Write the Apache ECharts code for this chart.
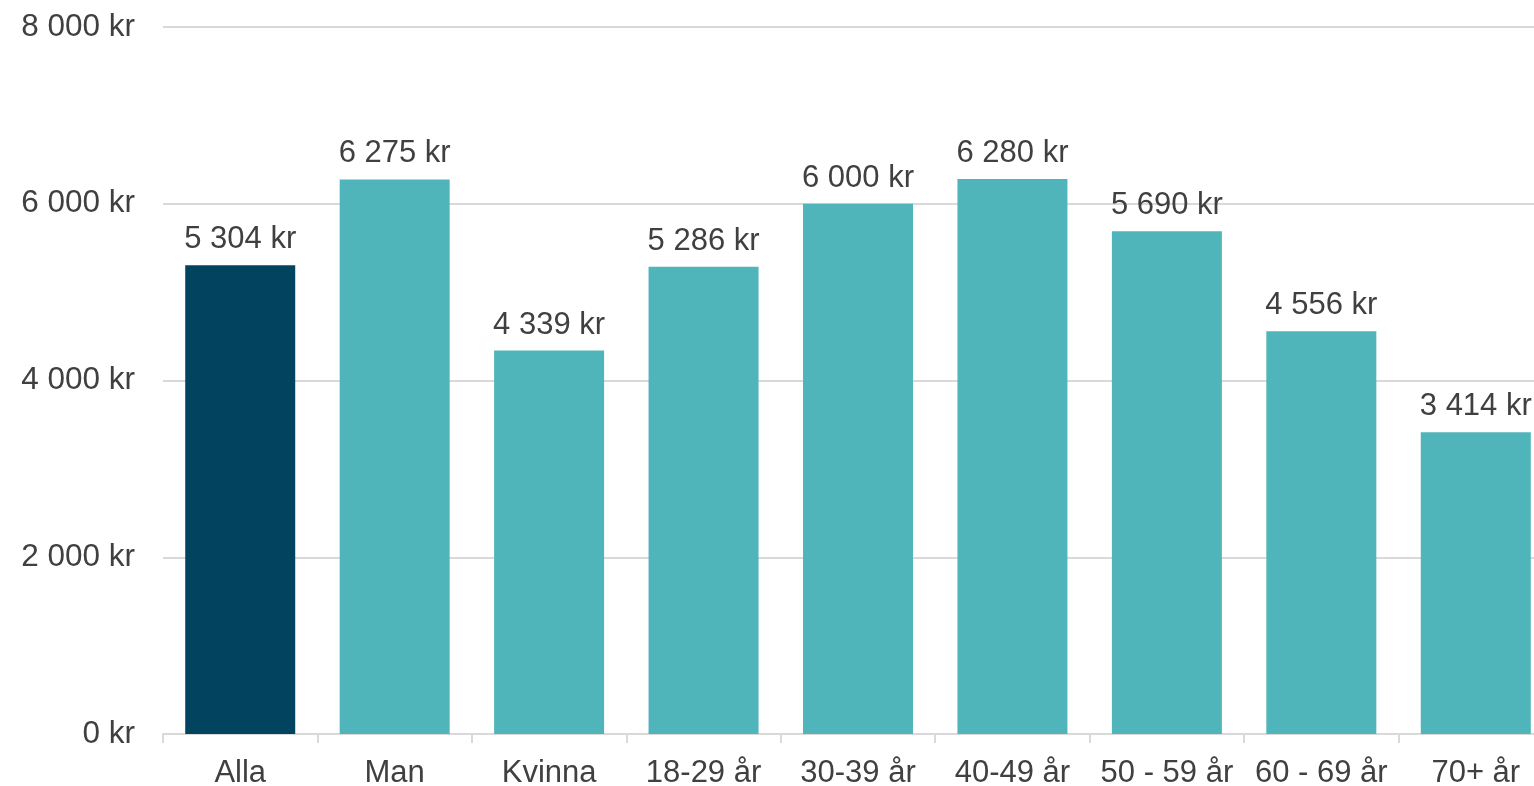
<!DOCTYPE html>
<html>
<head>
<meta charset="utf-8">
<script src="https://cdn.jsdelivr.net/npm/echarts@6/dist/echarts.min.js"></script>
<style>
html,body{margin:0;padding:0;background:#fff;}
#chart{width:1534px;height:786px;}
</style>
</head>
<body>
<div id="chart"></div>
<script>
const categories = ['Alla', 'Man', 'Kvinna', '18-29 år', '30-39 år', '40-49 år', '50 - 59 år', '60 - 69 år', '70+ år'];
const values = [5304, 6275, 4339, 5286, 6000, 6280, 5690, 4556, 3414];
const yTicks = [0, 2000, 4000, 6000, 8000];

const colorAll = '#02445F';
const colorOther = '#50B5BA';

function fmt(v) {
  return String(v).replace(/\B(?=(\d{3})+(?!\d))/g, ' ') + ' kr';
}

const chart = echarts.init(document.getElementById('chart'));
chart.setOption({
  animation: false,
  textStyle: { fontFamily: 'Liberation Sans, Arial, sans-serif' },
  grid: { left: 163, width: 1390, top: 27, bottom: 52, containLabel: false, outerBoundsMode: 'none' },
  xAxis: {
    type: 'category',
    data: categories,
    axisLine: { show: true, lineStyle: { color: '#D9D9D9', width: 2 } },
    axisTick: { show: true, length: 9, lineStyle: { color: '#D9D9D9', width: 2 } },
    axisLabel: { color: '#404040', fontSize: 31, margin: 24, interval: 0 }
  },
  yAxis: {
    type: 'value',
    min: yTicks[0],
    max: yTicks[yTicks.length - 1],
    interval: 2000,
    axisLine: { show: false },
    axisTick: { show: false },
    splitLine: { lineStyle: { color: '#D9D9D9', width: 2 } },
    axisLabel: { color: '#404040', fontSize: 31.5, margin: 28, padding: [4, 0, 0, 0], formatter: fmt }
  },
  series: [{
    type: 'bar',
    barWidth: 110,
    data: values.map((v, i) => ({ value: v, itemStyle: { color: i === 0 ? colorAll : colorOther } })),
    label: {
      show: true,
      position: 'top',
      distance: 10,
      color: '#404040',
      fontSize: 31,
      formatter: p => fmt(p.value)
    }
  }]
});
</script>
</body>
</html>
